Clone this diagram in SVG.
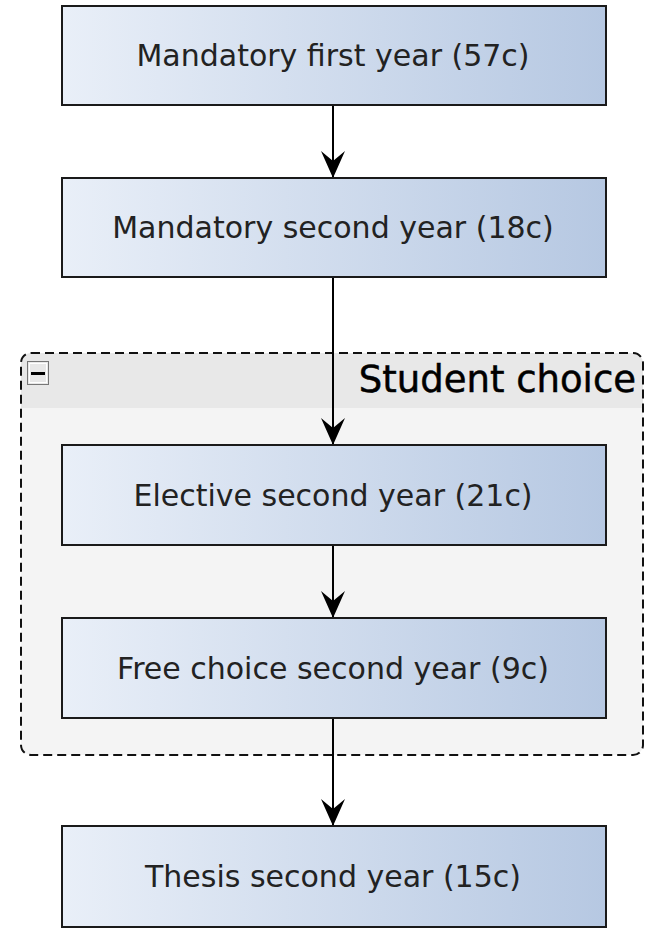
<svg xmlns="http://www.w3.org/2000/svg" width="646" height="928" viewBox="0 0 646 928">
<style>
.box{fill:url(#g);stroke:#1a1a1a;stroke-width:2}
.lbl{font-family:"DejaVu Sans",sans-serif;font-size:30px;fill:#222;text-anchor:middle}
.edge{stroke:#000;stroke-width:2;fill:none;marker-end:url(#ah)}
</style>
<defs>
<linearGradient id="g" x1="0" y1="0" x2="1" y2="0">
<stop offset="0" stop-color="#e9eff8"/>
<stop offset="1" stop-color="#b6c8e2"/>
</linearGradient>
<marker id="ah" viewBox="0 0 27 26" refX="27" refY="13" markerWidth="27" markerHeight="26" markerUnits="userSpaceOnUse" orient="auto">
<path d="M0,1 L27,13 L0,25 L10,13 Z" fill="#000"/>
</marker>
</defs>
<rect width="646" height="928" fill="#fff"/>
<g id="group-student-choice">
<rect x="21" y="353" width="622" height="402" rx="10" fill="#f4f4f4"/>
<path d="M21,408 V363 a10,10 0 0 1 10,-10 H633 a10,10 0 0 1 10,10 V408 Z" fill="#e8e8e8"/>
<rect x="21" y="353" width="622" height="402" rx="10" fill="none" stroke="#111" stroke-width="2" stroke-dasharray="9,5"/>
<rect x="27.5" y="361.5" width="21" height="23" fill="#e8e8e8" stroke="#777" stroke-width="1"/>
<rect x="29.5" y="363.5" width="17" height="19" fill="none" stroke="#fff" stroke-width="1"/>
<rect x="31" y="372" width="14" height="3" fill="#000"/>
<text x="636" y="392" font-family="'DejaVu Sans',sans-serif" font-size="37" fill="#000" stroke="#000" stroke-width="0.5" text-anchor="end">Student choice</text>
</g>
<g id="connectors">
<line class="edge" x1="333" y1="105" x2="333" y2="178"/>
<line class="edge" x1="333" y1="277" x2="333" y2="445"/>
<line class="edge" x1="333" y1="545" x2="333" y2="618"/>
<line class="edge" x1="333" y1="718" x2="333" y2="826"/>
</g>
<g id="n1"><rect class="box" x="62" y="6" width="544" height="99"/><text class="lbl" x="333" y="66">Mandatory first year (57c)</text></g>
<g id="n2"><rect class="box" x="62" y="178" width="544" height="99"/><text class="lbl" x="333" y="238">Mandatory second year (18c)</text></g>
<g id="n3"><rect class="box" x="62" y="445" width="544" height="100"/><text class="lbl" x="333" y="506">Elective second year (21c)</text></g>
<g id="n4"><rect class="box" x="62" y="618" width="544" height="100"/><text class="lbl" x="333" y="679">Free choice second year (9c)</text></g>
<g id="n5"><rect class="box" x="62" y="826" width="544" height="101"/><text class="lbl" x="333" y="887">Thesis second year (15c)</text></g>
</svg>
